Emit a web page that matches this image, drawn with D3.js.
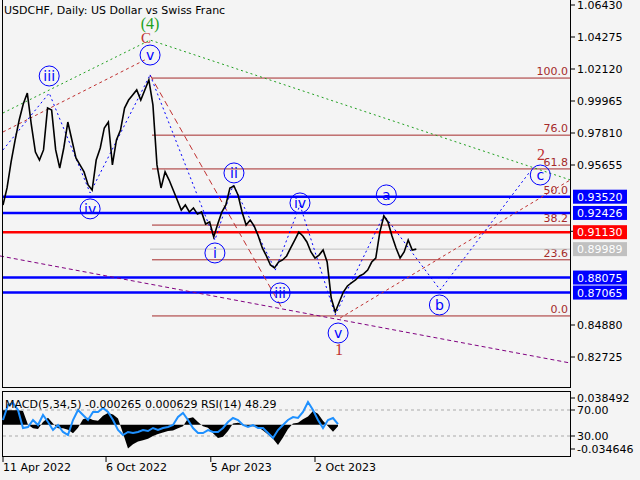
<!DOCTYPE html>
<html><head><meta charset="utf-8">
<script src="https://cdn.jsdelivr.net/npm/d3@7"></script>
<style>body{margin:0;background:#f4f4f4}svg{display:block;font-family:"DejaVu Sans",sans-serif}</style>
</head><body><svg id="c" width="640" height="480"></svg>
<script>
// weekly closes starting 2022-04-11
const closes=[0.9296,0.9411,0.9586,0.9734,0.9869,0.9976,1.0050,0.9835,0.9653,0.9599,0.9667,0.9950,0.9936,0.9667,0.9545,0.9680,0.9855,0.9734,0.9613,0.9566,0.9519,0.9431,0.9397,0.9599,0.9680,0.9815,0.9855,0.9566,0.9734,0.9801,0.9949,1.0003,1.0037,1.0071,1.0003,1.0071,1.0138,0.9970,0.9566,0.9411,0.9519,0.9464,0.9397,0.9330,0.9262,0.9296,0.9249,0.9276,0.9235,0.9249,0.9168,0.9182,0.9081,0.9168,0.9249,0.9296,0.9411,0.9424,0.9364,0.9249,0.9161,0.9195,0.9154,0.9087,0.9007,0.8953,0.8892,0.8872,0.8912,0.8926,0.8953,0.9007,0.9060,0.9114,0.9087,0.9047,0.8980,0.8939,0.8959,0.8993,0.8912,0.8670,0.8576,0.8643,0.8710,0.8751,0.8771,0.8791,0.8818,0.8832,0.8858,0.8912,0.8939,0.9114,0.9222,0.9182,0.9087,0.9007,0.8939,0.8980,0.9060,0.8993,0.8999];
const rsi=[54.6,77.7,80.8,70,42.3,43.8,54.6,46.9,62.3,51.5,39.2,46.9,36.2,31.5,54.6,70,62.3,54.6,66.9,66.9,73.1,66.9,54.6,39.2,31.5,36.2,34.6,36.2,39.2,37.7,42.3,39.2,42.3,43.8,46.9,59.2,65.4,54.6,42.3,34.6,34.6,39.2,36.2,36.2,42.3,51.5,57.7,54.6,46.9,43.8,46.9,42.3,42.3,34.6,26.9,39.2,46.9,54.6,59.2,57.7,66.9,82.3,70,54.6,42.3,54.6,57.7,48.3];
const macd=[0.021,0.021,0.021,0.021,0.02,0.0,-0.005,-0.006,0.004,0.010,0.002,-0.005,-0.005,-0.007,-0.012,-0.004,0.008,0.010,0.007,0.006,0.013,0.017,0.015,0.009,-0.012,-0.034,-0.028,-0.024,-0.022,-0.020,-0.016,-0.013,-0.011,-0.009,-0.008,-0.005,-0.002,0.009,0.011,0.004,-0.002,-0.004,-0.012,-0.019,-0.017,-0.009,0.002,0.003,0.001,-0.002,-0.002,-0.003,-0.008,-0.014,-0.020,-0.029,-0.018,-0.006,0.002,0.003,0.008,0.012,0.020,0.016,0.006,-0.002,-0.010,-0.002];
const priceTicks=[1.06430,1.04275,1.02120,0.99965,0.97810,0.95655,0.91190,0.84880,0.82725];
const dateTicks=["2022-04-11","2022-10-06","2023-04-05","2023-10-02"];
const dateLabels=["11 Apr 2022","6 Oct 2022","5 Apr 2023","2 Oct 2023"];
const fibPct=[100.0,76.0,61.8,50.0,38.2,23.6,0.0];
const fibHigh=1.0151, fibLow=0.8549;
const levels=[{v:0.93520,c:"#0000ff"},{v:0.92426,c:"#0000ff"},{v:0.91130,c:"#ff0000"},{v:0.89989,c:"#c0c0c0"},{v:0.88075,c:"#0000ff"},{v:0.87065,c:"#0000ff"}];
// annotations: [week index, price]
const waveA=[[0,0.9667],[11.4,1.0050],[21.5,0.9377],[36.3,1.0172]];
const waveB=[[36.3,1.0172],[52.3,0.9060],[56.8,0.9431],[67.2,0.8858],[73.3,0.9296],[82,0.8555],[94,0.9229],[107.9,0.8724],[130,0.9519]];
const greenLine=[[0,0.9916],[36.3,1.0407],[140,0.9465]];
const brownLine1=[[0,0.9788],[35,1.0273]];
const brownLine2=[[36.3,1.0172],[69.1,0.8589]];
const brownLine3=[[83.2,0.8535],[140,0.9465]];
const purpleLine=[[-0.74,0.8953],[140,0.8232]];
const circLabels=[["iii",11.4,1.0165],["iv",21.5,0.9270],["v",36.3,1.0306],["i",52.3,0.8973],["ii",57,0.9512],["iii",68.4,0.8704],["iv",73.3,0.9310],["v",82.7,0.8434],["a",94.6,0.9364],["b",107.7,0.8623],["c",132.6,0.9498]];

const svg=d3.select("#c");
const P=d3.timeParse("%Y-%m-%d");
const t0=P("2022-04-11");
const x=d3.scaleTime().domain([t0,P("2023-10-02")]).range([3,315]);
const y=d3.scaleLinear().domain([1.06430,0.84880]).range([5,325]);
const W=w=>x(d3.timeHour.offset(t0,Math.round(w*168)));
const wk=closes.map((c,i)=>({w:i,c}));
const ix=d3.scaleLinear().domain([0,rsi.length-1]).range([3,338]);
const ym=d3.scaleLinear().domain([0.038492,-0.034646]).range([398,449]);
const yr=d3.scaleLinear().domain([30,70]).range([436,410]);

svg.append("rect").attr("width",640).attr("height",480).attr("fill","#f4f4f4");
const main=svg.append("g");
fibPct.forEach(p=>{const v=fibLow+p/100*(fibHigh-fibLow);
 main.append("line").attr("x1",152).attr("x2",570).attr("y1",y(v)).attr("y2",y(v)).attr("stroke","#a52a2a").attr("stroke-width",1);
 main.append("text").attr("x",568).attr("y",y(v)-3).attr("text-anchor","end").attr("font-size",11).attr("fill","#a52a2a").text(p.toFixed(1));});
levels.forEach(l=>{main.append("line").attr("x1",l.c=="#c0c0c0"?150:2).attr("x2",570).attr("y1",y(l.v)).attr("y2",y(l.v)).attr("stroke",l.c).attr("stroke-width",l.c=="#c0c0c0"?1:2.5);});
const L=(pts,col,dash)=>main.append("path").attr("d",d3.line().x(d=>W(d[0])).y(d=>y(d[1]))(pts)).attr("fill","none").attr("stroke",col).attr("stroke-dasharray",dash).attr("stroke-width",1);
L(greenLine,"#20a020","2,3");
L(brownLine1,"#c03030","3,3");
L(brownLine2,"#c03030","6,4");
L(brownLine3,"#c03030","3,3");
L(purpleLine,"#800080","4,3");
L(waveA,"#0000ff","2,3");
L(waveB,"#0000ff","2,3");
main.append("path").datum(wk).attr("d",d3.line().x(d=>W(d.w)).y(d=>y(d.c))).attr("fill","none").attr("stroke","#000").attr("stroke-width",1.6);
circLabels.forEach(([t,w,v])=>{const g=main.append("g").attr("transform",`translate(${W(w)},${y(v)})`);
 g.append("circle").attr("r",10).attr("fill","none").attr("stroke","#0000ff");
 g.append("text").attr("text-anchor","middle").attr("y",5).attr("font-size",14).attr("fill","#0000ff").text(t);});
const txt=(s,xx,yy,col,fs)=>main.append("text").attr("x",xx).attr("y",yy).attr("text-anchor","middle").attr("font-family","Liberation Serif").attr("font-size",fs).attr("fill",col).text(s);
main.append("text").attr("x",4).attr("y",14).attr("font-size",11).text("USDCHF, Daily:  US Dollar vs Swiss Franc");
txt("(4)",150,29,"#20a020",16);
txt("C",146,43,"#c03030",15);
txt("1",339,355,"#c03030",16);
txt("2",541,160,"#c03030",16);
svg.append("line").attr("x1",2.5).attr("x2",2.5).attr("y1",0).attr("y2",388).attr("stroke","#000");
svg.append("line").attr("x1",570.5).attr("x2",570.5).attr("y1",0).attr("y2",388).attr("stroke","#000");
svg.append("line").attr("x1",2).attr("x2",570).attr("y1",387.5).attr("y2",387.5).attr("stroke","#000");
svg.append("rect").attr("x",2.5).attr("y",391.5).attr("width",568).attr("height",65).attr("fill","none").attr("stroke","#000");
const ax=svg.append("g").attr("font-size",11);
priceTicks.forEach(v=>{ax.append("line").attr("x1",570).attr("x2",575).attr("y1",y(v)).attr("y2",y(v)).attr("stroke","#000");
 ax.append("text").attr("x",577).attr("y",y(v)+4).text(v.toFixed(5));});
levels.forEach(l=>{ax.append("rect").attr("x",573).attr("y",y(l.v)-7).attr("width",54).attr("height",14).attr("fill",l.c);
 ax.append("text").attr("x",577).attr("y",y(l.v)+4).attr("fill","#fff").text(l.v.toFixed(5));});
const ind=svg.append("g");
[70,30].forEach(v=>ind.append("line").attr("x1",3).attr("x2",570).attr("y1",yr(v)).attr("y2",yr(v)).attr("stroke","#aaa").attr("stroke-dasharray","3,3"));
ind.append("path").datum(macd).attr("d",d3.area().x((d,i)=>ix(i)).y0(ym(0)).y1(d=>ym(d))).attr("fill","#000");
ind.append("path").datum(rsi).attr("d",d3.line().x((d,i)=>ix(i)).y(d=>yr(d))).attr("fill","none").attr("stroke","#1e90ff").attr("stroke-width",2);
ind.append("text").attr("x",5).attr("y",408).attr("font-size",11).text("MACD(5,34,5) -0.000265 0.000629 RSI(14) 48.29");
[[0.038492,ym(0.038492)],[70,yr(70)],[30,yr(30)],[-0.034646,ym(-0.034646)]].forEach(([v,yy])=>{
 ind.append("line").attr("x1",570).attr("x2",575).attr("y1",yy).attr("y2",yy).attr("stroke","#000");
 ind.append("text").attr("x",577).attr("y",yy+4).attr("font-size",11).text(Math.abs(v)>=1?v.toFixed(2):v.toFixed(6));});
dateTicks.forEach((d,i)=>{const xx=x(P(d));
 svg.append("line").attr("x1",xx).attr("x2",xx).attr("y1",457).attr("y2",462).attr("stroke","#000");
 svg.append("text").attr("x",xx).attr("y",471).attr("font-size",11).text(dateLabels[i]);});
</script></body></html>
